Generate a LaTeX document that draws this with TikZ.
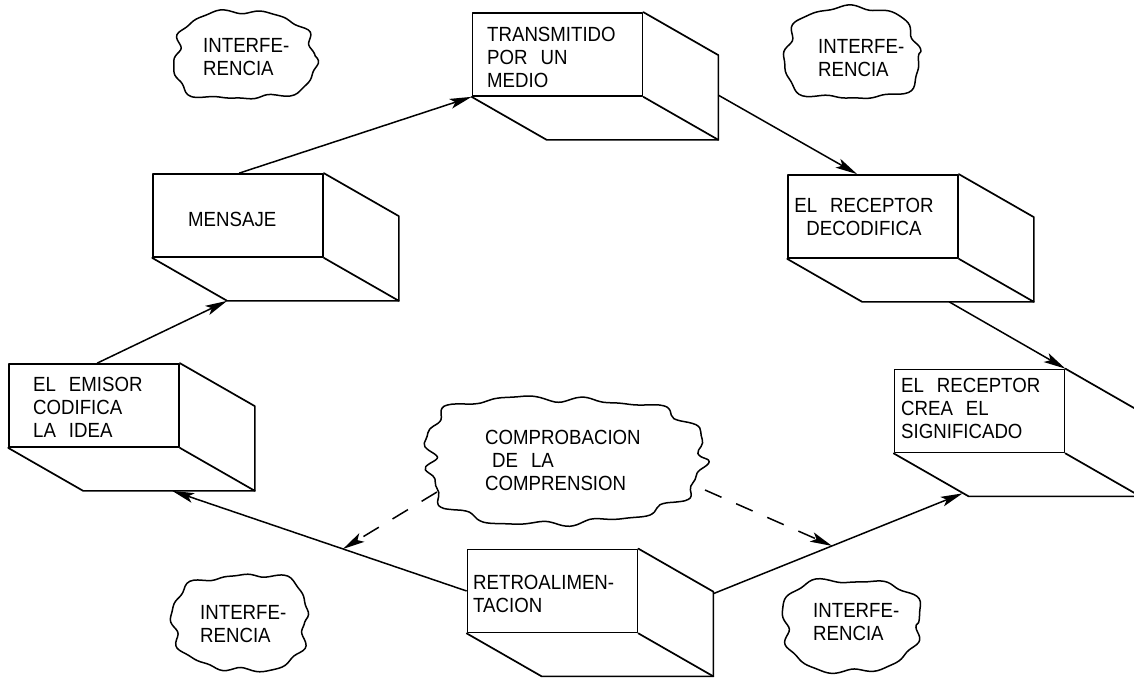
\documentclass[tikz,border=0pt]{standalone}
\usepackage{fontspec}
\setmainfont{Liberation Sans}[FakeStretch=0.91, WordSpace=2.5]
\usetikzlibrary{arrows.meta}

\tikzset{
  prismline/.style={line width=1.7pt, line join=round, line cap=round},
  prismface/.style={prismline, draw, minimum width=170pt, minimum height=83pt, inner sep=0pt},
  boxtext/.style={inner sep=0pt, align=left, font=\fontsize{20.5}{23}\selectfont},
  flowarrow/.style={line width=1.5pt, -{Stealth[length=22pt,width=10pt,inset=5pt]}},
  checkarrow/.style={flowarrow, dash pattern=on 18pt off 16pt},
  cloudline/.style={line width=1.5pt, line join=round},
}

% extruded block: back edges drawn down and to the right of the front face
\newcommand\prism[1]{%
  \draw[prismline] (#1.north east) -- ++(75,43) coordinate (#1-bne)
    -- ([shift={(75,43)}]#1.south east) coordinate (#1-bse)
    -- ([shift={(75,43)}]#1.south west) coordinate (#1-bsw)
    -- (#1.south west);
  \draw[prismline] (#1.south east) -- (#1-bse);}

% lumpy cloud outline: centre x, centre y, half width, half height, phase, ripple count
\newcommand\cloudpath[6]{%
  \draw[cloudline] plot[smooth cycle, tension=0.55, domain=0:357, samples=120, variable=\t]
   ({#1+#3*cos(\t)*(1+0.035*sin(#6*\t+#5)+0.02*sin(1.6*#6*\t+2*#5)+0.04*sin(3*\t+3*#5))/((abs(cos(\t))^3+abs(sin(\t))^3)^(1/3))},
    {#2+#4*sin(\t)*(1+0.035*sin(#6*\t+#5)+0.02*sin(1.6*#6*\t+2*#5)+0.04*sin(3*\t+3*#5))/((abs(cos(\t))^3+abs(sin(\t))^3)^(1/3))});}

\begin{document}
\begin{tikzpicture}[x=1pt,y=-1pt]
\useasboundingbox (0,0) rectangle (1134,677);
\clip (0,0) rectangle (1134,677);

% blocks
\node[prismface] (emisor) at (94,405.5) {};
\node[prismface] (mensaje) at (238,215.5) {};
\node[prismface] (transm) at (557.5,54.5) {};
\node[prismface] (decod) at (873,216.5) {};
\node[prismface] (crea) at (979.5,411) {};
\node[prismface] (retro) at (552.5,591) {};
\prism{emisor}
\prism{mensaje}
\prism{transm}
\prism{decod}
\prism{crea}
\prism{retro}

% block texts
\node[boxtext, anchor=north west] (emisor-t) at (33,377) {EL EMISOR\\CODIFICA\\LA IDEA};
\node[boxtext, anchor=north west] (mensaje-t) at (188,212) {MENSAJE};
\node[boxtext, anchor=north west] (transm-t) at (487,27) {TRANSMITIDO\\POR UN\\MEDIO};
\node[boxtext, align=center, anchor=north] (decod-t) at (864,198) {EL RECEPTOR\\DECODIFICA};
\node[boxtext, anchor=north west] (crea-t) at (901,378) {EL RECEPTOR\\CREA EL\\SIGNIFICADO};
\node[boxtext, anchor=north west] (retro-t) at (473,575) {RETROALIMEN-\\TACION};

% clouds
\node[boxtext, anchor=north west] (comp) at (485,430) {COMPROBACION\\\hspace*{7pt}DE LA\\COMPRENSION};
\coordinate (comp-cloud) at (562,460);
\cloudpath{562}{460}{136}{62}{40}{13}
\node[boxtext, anchor=north west] (int1) at (203,38) {INTERFE-\\RENCIA};
\cloudpath{244}{56}{69}{43}{10}{9}
\node[boxtext, anchor=north west] (int2) at (818,39) {INTERFE-\\RENCIA};
\cloudpath{852}{54}{66}{45}{120}{8}
\node[boxtext, anchor=north west] (int3) at (200,605) {INTERFE-\\RENCIA};
\cloudpath{241}{622}{66}{47}{200}{9}
\node[boxtext, anchor=north west] (int4) at (813,603) {INTERFE-\\RENCIA};
\cloudpath{851}{625}{67}{45}{290}{8}

% message flow
\draw[flowarrow] ([xshift=89pt]emisor.north west) -- (mensaje-bsw);
\draw[flowarrow] ([xshift=87pt]mensaje.north west) -- (transm.south west);
\draw[flowarrow] ([shift={(0,40)}]transm-bne) -- ([xshift=70pt]decod.north west);
\draw[flowarrow] ([xshift=87pt]decod-bsw) -- (crea.north east);
\draw[flowarrow] ([shift={(0,2)}]retro-bne) -- coordinate[pos=0.476] (fbR) ([shift={(-6,-3)}]crea-bsw);
\draw[flowarrow] (retro.west) -- coordinate[pos=0.42] (fbL) ([xshift=89pt]emisor-bsw);

% comprehension check
\draw[checkarrow] ([shift={(-125,32)}]comp-cloud) -- (fbL);
\draw[checkarrow] ([shift={(143,30)}]comp-cloud) -- (fbR);
\end{tikzpicture}
\end{document}
